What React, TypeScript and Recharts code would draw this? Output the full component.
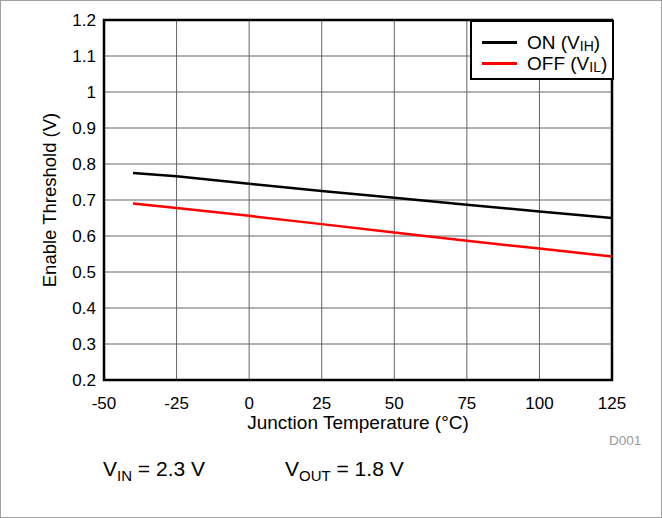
import React from 'react';
import { LineChart, Line, XAxis, YAxis, CartesianGrid, ReferenceArea } from 'recharts';

const temperatures = [-40, -25, 0, 25, 50, 75, 100, 125];
const onThreshold = [0.775, 0.766, 0.745, 0.725, 0.706, 0.687, 0.668, 0.65];
const offThreshold = [0.69, 0.678, 0.656, 0.633, 0.61, 0.587, 0.565, 0.543];
const xTicks = [-50, -25, 0, 25, 50, 75, 100, 125];
const yTicks = [0.2, 0.3, 0.4, 0.5, 0.6, 0.7, 0.8, 0.9, 1, 1.1, 1.2];

const data = temperatures.map((t, i) => ({ t, on: onThreshold[i], off: offThreshold[i] }));

const FONT = '"Liberation Sans", Arial, Helvetica, sans-serif';

export default function App() {
  return (
    <div
      style={{
        position: 'absolute',
        left: 0,
        top: 0,
        width: 662,
        height: 518,
        boxSizing: 'border-box',
        border: '1px solid #a0a0a0',
        background: '#fff',
        fontFamily: FONT,
      }}
    >
      <div style={{ position: 'absolute', left: -1, top: -1 }}>
        <LineChart width={662} height={518} data={data} margin={{ top: 20, right: 50, bottom: 78, left: 34 }}>
          <CartesianGrid stroke="#656565" strokeWidth={1} />
          <XAxis
            dataKey="t"
            type="number"
            domain={[-50, 125]}
            ticks={xTicks}
            interval={0}
            axisLine={false}
            tickLine={false}
            tickSize={0}
            tickMargin={17}
            height={60}
            tick={{ fill: '#000', fontSize: 17, fontFamily: FONT }}
            label={{ value: 'Junction Temperature (°C)', position: 'insideTop', offset: 36, fill: '#000', fontSize: 19, fontFamily: FONT }}
          />
          <YAxis
            type="number"
            domain={[0.2, 1.2]}
            ticks={yTicks}
            interval={0}
            axisLine={false}
            tickLine={false}
            tickSize={0}
            tickMargin={8}
            width={70}
            tickFormatter={(v: number) => (v === 1 ? '1' : v.toFixed(1))}
            tick={{ fill: '#000', fontSize: 17, fontFamily: FONT }}
            label={{
              value: 'Enable Threshold (V)',
              angle: -90,
              position: 'insideLeft',
              offset: 15,
              fill: '#000',
              fontSize: 18.5,
              fontFamily: FONT,
              style: { textAnchor: 'middle' },
            }}
          />
          <ReferenceArea x1={-50} x2={125} y1={0.2} y2={1.2} fill="none" stroke="#000" strokeWidth={2.5} ifOverflow="visible" />
          <Line type="linear" dataKey="on" stroke="#000" strokeWidth={2.5} dot={false} isAnimationActive={false} />
          <Line type="linear" dataKey="off" stroke="#ff0000" strokeWidth={2.5} dot={false} isAnimationActive={false} />
        </LineChart>
      </div>

      <div
        style={{
          position: 'absolute',
          left: 469,
          top: 19,
          width: 144,
          height: 60,
          boxSizing: 'border-box',
          border: '2px solid #000',
          background: '#fff',
          fontSize: 19,
          lineHeight: '19px',
          color: '#000',
        }}
      >
        {[
          { color: '#000', name: 'ON', sub: 'IH' },
          { color: '#ff0000', name: 'OFF', sub: 'IL' },
        ].map((item, i) => (
          <div key={i} style={{ position: 'absolute', left: 10, top: 11 + i * 21, height: 19, display: 'flex', alignItems: 'center', whiteSpace: 'nowrap' }}>
            <div style={{ width: 35, height: 2.5, background: item.color, marginRight: 10 }} />
            <span>
              {item.name} (V<span style={{ fontSize: 14, lineHeight: '14px', position: 'relative', top: 2 }}>{item.sub}</span>)
            </span>
          </div>
        ))}
      </div>

      <div style={{ position: 'absolute', left: 608, top: 433, fontSize: 13.5, color: '#9a9a9a', lineHeight: '13px' }}>D001</div>

      <div style={{ position: 'absolute', left: 102, top: 457, fontSize: 21, lineHeight: '21px', color: '#000', whiteSpace: 'nowrap' }}>
        V<span style={{ fontSize: 15, position: 'relative', top: 5 }}>IN</span> = 2.3 V
      </div>
      <div style={{ position: 'absolute', left: 284, top: 457, fontSize: 21, lineHeight: '21px', color: '#000', whiteSpace: 'nowrap' }}>
        V<span style={{ fontSize: 15, position: 'relative', top: 5 }}>OUT</span> = 1.8 V
      </div>
    </div>
  );
}
